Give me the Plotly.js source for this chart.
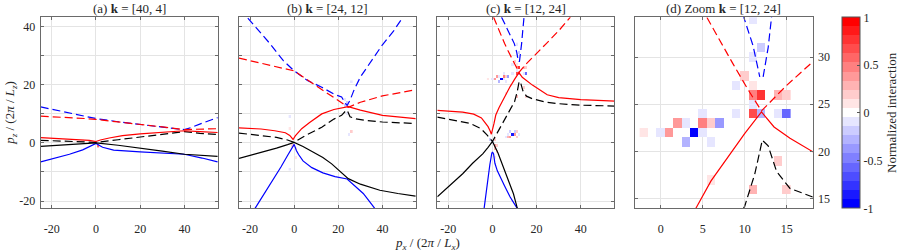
<!DOCTYPE html>
<html><head><meta charset="utf-8">
<script src="https://cdn.plot.ly/plotly-3.0.1.min.js"></script>
<style>html,body{margin:0;padding:0;background:#fff}</style>
</head><body><div id="chart" style="width:900px;height:252px"></div>
<script>
// ---------------- Panel (a) k = [40,4] ----------------
const aRedSolidX = [-25,-15,-8,-3,0,2,6,12,20,30,40,47,55];
const aRedSolidY = [1.8,1.5,1.2,0.9,0.5,1.0,1.7,2.5,3.1,3.7,4.2,3.9,3.6];
const aRedDashX = [-25,-15,-5,0,10,20,30,40,47,55];
const aRedDashY = [9.2,8.9,8.4,8.1,7.3,6.4,5.5,4.6,4.7,4.9];
const aBlueSolidX = [-25,-18,-12,-6,-2,0,3,8,20,30,40,48,55];
const aBlueSolidY = [-6.5,-5.2,-3.9,-2.4,-1.0,-0.2,-1.5,-2.5,-3.1,-3.5,-3.9,-5.2,-6.5];
const aBlueDashX = [-25,-15,-5,0,10,20,30,37,40,43,48,55];
const aBlueDashY = [12.4,10.9,9.2,8.4,7.3,6.3,5.4,4.8,4.6,5.3,6.8,8.7];
const aBlackSolidX = [-25,-15,-5,0,10,20,30,40,48,55];
const aBlackSolidY = [-1.2,-0.8,-0.3,0,-0.8,-1.7,-2.8,-3.9,-4.3,-4.6];
const aBlackDashX = [-25,-15,-5,0,10,20,30,40,47,55];
const aBlackDashY = [0.9,0.6,0.3,0.2,1.1,2.0,2.9,3.9,3.3,2.9];
const aCellX = [1];
const aCellY = [-1];
const aCellV = [0.6];

// ---------------- Panel (b) k = [24,12] ----------------
const bRedSolidX = [-25,-15,-8.8,-4,-2,-0.5,0.5,3.4,7,12.5,18,24.5,30,40,55];
const bRedSolidY = [5.2,4.8,4.2,3.5,2.6,1.2,2.4,4.9,7,10,11.5,12.5,11.3,9.5,8.4];
const bRedDashX = [-25,-15,-5,0,5,10,15,20,24.5,30,40,55];
const bRedDashY = [29.2,27.4,25.8,24.8,22.2,19.7,17.2,14.7,12.3,14.0,16.2,18.3];
const bBlueSolidX = [-17.8,-14,-10,-6,-3,-1,0,1,2,4,8,13,18.5,24,28,31.3,34,36.6];
const bBlueSolidY = [-22.6,-18,-13.3,-8.3,-4.3,-1.6,-0.5,-2.6,-4,-6.2,-8.5,-10.3,-11.6,-12.4,-15,-17.4,-20,-22.6];
const bBlueDashX = [-21,-11,-5,0,6,12.5,18,21.5,23.3,24,25.3,27,30,35,40,45,49];
const bBlueDashY = [43,34.2,28.4,24.8,21.5,19.2,16.8,15.8,13.5,12.9,14.7,18,22.7,28.4,33.8,38.5,43];
const bBlackSolidX = [-25,-15,-8,-3,0,4,8,13,17,21,24.5,30,38.8,47,55];
const bBlackSolidY = [-5.3,-3.3,-1.8,-0.6,0.2,-1.2,-2.9,-5,-7.2,-10,-12.3,-14.2,-16.3,-17.4,-18.3];
const bBlackDashX = [-25,-15,-8,-3,0,5,12.5,18,21.5,23.3,24,25.3,28,32,40,55];
const bBlackDashY = [3.4,2.6,1.9,1.0,0.2,2.5,5.4,8.2,9.5,11.0,11.3,9,8.3,7.8,7.2,6.7];
const bCellX = [-2,-2,-1,0,1,1,-2,23,24,23,25,24,26,26,25];
const bCellY = [9,5,-1,-1,-2,-5,-9,15,14,13,13,10,21,4,3];
const bCellV = [-0.12,0.1,0.15,0.2,0.12,0.12,-0.12,-0.12,-0.15,-0.2,0.1,-0.1,-0.1,0.15,-0.1];

// ---------------- Panels (c),(d) k = [12,24] ----------------
const cRedSolidX = [-25,-17.7,-13.5,-8.5,-5,-3.9,-2,-1.1,-0.5,0.7,1.5,3,4.2,6,8,10,12,13.5,15.4,18.1,20,24.8,30,40,55.9];
const cRedSolidY = [11.2,10.7,10.6,9.9,8.6,7.5,5.6,4.2,3.0,6.7,9.6,12.2,14,16.9,19.4,21.9,24.2,22.6,21.4,19.9,19,16.6,15.6,14.9,14.4];
const cRedDashX = [0.5,3,5.5,7,8.6,10.3,12,15,18.1,24.5,30,35.3];
const cRedDashY = [43.3,38.5,34.2,31.8,29.3,26.7,24.3,27,29.5,34.3,38.6,43.3];
const cBlueSolidX = [-3.8,-2.5,-1.2,-0.3,0,0.5,1.1,2.2,3.4,5.5,8,11.3];
const cBlueSolidY = [-22.6,-14,-7.5,-3.5,-3.1,-3.8,-7,-9.6,-11.7,-14.8,-18.6,-22.6];
const cBlueDashX = [4.1,6.5,8.5,9.9,11,11.8,null,12.2,12.8,13.2,13.7,14.3];
const cBlueDashY = [43.3,39.5,36.3,34.2,31.2,27.9,null,27.9,31,34.2,38.5,43.3];
const cBlackSolidX = [-25,-19,-13.5,-9,-4.3,-2,0,2.5,5,7.5,9.5,11.3];
const cBlackSolidY = [-18.5,-14.5,-10.6,-7,-3.7,-1.5,0.5,-3.5,-8.5,-13.5,-17.5,-22.6];
const cBlackDashX = [-25,-17.7,-10,-5.4,-2.5,0,3,6,8.5,10,11.2,12.1,12.8,13.8,15.4,18.1,23.7,30,40,55.9];
const cBlackDashY = [8.9,7.8,6.7,5,2.8,0.5,4.5,8.5,11.8,14.2,17.6,21.2,20.6,17.9,16.1,15.2,14.1,13.5,13,12.7];
const cCellX = [11,12,11,10,9,11,11,12,14,15,11,9,11,12,14,15,5,2,3,5,6,7,-2,0,1,4,5,3,6,14,6,11,15,
                8,10,11,7,9,10,12,6,7,8,11,-1,1,0,1,2,1,2,1];
const cCellY = [34,31,30,28,27,27,26,26,26,26,25,24,24,24,24,24,24,23,23,23,23,23,22,22,22,22,22,21,21,19,17,16,16,
                4,4,4,3,3,3,3,2,2,2,2,1,1,0,-1,-1,-2,-3,-5];
const cCellV = [-0.12,-0.15,-0.12,0.15,-0.1,0.12,0.45,0.75,0.3,0.15,-0.1,-0.1,0.7,-0.25,-0.1,-0.55,-0.1,0.35,-0.1,0.45,0.15,-0.4,0.12,-0.1,0.4,-1,-0.1,-0.25,-0.1,0.15,0.12,0.25,0.15,
                -0.15,-0.2,0.15,-0.1,-0.9,0.35,-0.1,-0.1,0.3,0.35,0.2,-0.15,0.2,-0.1,0.35,0.2,0.3,0.15,0.1];

// ---------------- Tick labels ----------------
const mainXTicks = [-20,0,20,40];
const mainXText = ['-20','0','20','40'];
const mainYTicks = [-20,-10,0,10,20,30,40];
const mainYText = ['-20','','0','','20','','40'];
const zoomXTicks = [0,5,10,15];
const zoomXText = ['0','5','10','15'];
const zoomYTicks = [15,20,25,30];
const zoomYText = ['15','20','25','30'];
const cbTicks = [-1,-0.5,0,0.5,1];
const cbText = ['-1','-0.5','0','0.5','1'];
const titles = ['(a) <b>k</b> = [40, 4]','(b) <b>k</b> = [24, 12]','(c) <b>k</b> = [12, 24]','(d) Zoom <b>k</b> = [12, 24]'];

// ---------------- helpers ----------------
const FONT = 'Liberation Serif';
const RED = '#ff0000', BLUE = '#0000ff', BLACK = '#000000';
const DASH = '8px,4px';
const LW = 1.2;

function grid(cx, cy, cv){
  const xmin = Math.min(...cx), xmax = Math.max(...cx);
  const ymin = Math.min(...cy), ymax = Math.max(...cy);
  const xs = [], ys = [], z = [];
  for (let x = xmin; x <= xmax; x++) xs.push(x);
  for (let y = ymin; y <= ymax; y++) { ys.push(y); z.push(new Array(xs.length).fill(null)); }
  cx.forEach((x,i)=>{ z[cy[i]-ymin][x-xmin] = cv[i]; });
  return {xs, ys, z};
}
function levelColor(v){
  if (v >= 0){ const c = Math.round(255*(1-v)); return `rgb(255,${c},${c})`; }
  const c = Math.round(255*(1+v)); return `rgb(${c},${c},255)`;
}
const NL = 21, colorscale = [];
for (let j = 0; j < NL; j++){
  const c = levelColor(-1 + j*0.1);
  colorscale.push([j/NL, c]); colorscale.push([(j+1)/NL, c]);
}
function heat(g, xa, ya, showscale){
  const t = {type:'heatmap', x:g.xs, y:g.ys, z:g.z, xaxis:xa, yaxis:ya,
    colorscale, zmin:-1, zmax:1, showscale:!!showscale, hoverinfo:'skip', xgap:0, ygap:0};
  if (showscale){
    t.colorbar = {x:842.3/900, xanchor:'left', xref:'paper', y:1-112.8/252, yanchor:'middle', yref:'paper',
      len:191/252, lenmode:'fraction', thickness:18.4, thicknessmode:'pixels', xpad:0, ypad:0,
      outlinewidth:1, outlinecolor:'#555',
      tickvals:cbTicks, ticktext:cbText, ticks:'inside', ticklen:3, tickcolor:'#555',
      tickfont:{family:FONT, size:12, color:'#262626'},
      title:{text:'Normalized interaction', side:'right', font:{family:FONT, size:13, color:'#262626'}}};
  }
  return t;
}
function line(x, y, color, dashed, xa, ya){
  return {type:'scatter', mode:'lines', x, y, xaxis:xa, yaxis:ya, hoverinfo:'skip', connectgaps:false,
    line:{color, width:LW, dash: dashed ? DASH : 'solid'}};
}
function panel(p, xa, ya){
  return [
    line(p.bs[0], p.bs[1], BLUE, false, xa, ya),
    line(p.bd[0], p.bd[1], BLUE, true, xa, ya),
    line(p.ks[0], p.ks[1], BLACK, false, xa, ya),
    line(p.kd[0], p.kd[1], BLACK, true, xa, ya),
    line(p.rs[0], p.rs[1], RED, false, xa, ya),
    line(p.rd[0], p.rd[1], RED, true, xa, ya)
  ];
}
const PA = {rs:[aRedSolidX,aRedSolidY], rd:[aRedDashX,aRedDashY], bs:[aBlueSolidX,aBlueSolidY], bd:[aBlueDashX,aBlueDashY], ks:[aBlackSolidX,aBlackSolidY], kd:[aBlackDashX,aBlackDashY]};
const PB = {rs:[bRedSolidX,bRedSolidY], rd:[bRedDashX,bRedDashY], bs:[bBlueSolidX,bBlueSolidY], bd:[bBlueDashX,bBlueDashY], ks:[bBlackSolidX,bBlackSolidY], kd:[bBlackDashX,bBlackDashY]};
const PC = {rs:[cRedSolidX,cRedSolidY], rd:[cRedDashX,cRedDashY], bs:[cBlueSolidX,cBlueSolidY], bd:[cBlueDashX,cBlueDashY], ks:[cBlackSolidX,cBlackSolidY], kd:[cBlackDashX,cBlackDashY]};

const gA = grid(aCellX, aCellY, aCellV);
const gB = grid(bCellX, bCellY, bCellV);
const gC = grid(cCellX, cCellY, cCellV);

const traces = [
  heat(gA,'x','y'), heat(gB,'x2','y2'), heat(gC,'x3','y3'), heat(gC,'x4','y4',true),
  ...panel(PA,'x','y'), ...panel(PB,'x2','y2'), ...panel(PC,'x3','y3'), ...panel(PC,'x4','y4')
];

const FRAME = '#6a6a6a', GRID = '#e4e4e4';
function axis(domain, range, tv, tt, extra){
  return Object.assign({domain, range, tickmode:'array', tickvals:tv, ticktext:tt,
    showgrid:true, gridcolor:GRID, gridwidth:1, zeroline:false,
    showline:true, linecolor:FRAME, linewidth:1, mirror:'ticks',
    ticks:'inside', ticklen:3, tickcolor:FRAME, tickwidth:1,
    tickfont:{family:FONT, size:12, color:'#262626'}, fixedrange:true}, extra||{});
}
const YD = [1-208.3/252, 1-17.3/252];
const XR = [-25,55.2], YR = [-22.5,43.25];
const dom = [[40.7,218],[239,416],[437.3,614.3],[635,812.7]].map(d=>[d[0]/900,d[1]/900]);
const XS = {ticklabelstandoff:9};

const layout = {
  width:900, height:252, autosize:false, margin:{l:0,r:0,t:0,b:0},
  paper_bgcolor:'#fff', plot_bgcolor:'#fff', showlegend:false,
  font:{family:FONT, color:'#262626'},
  xaxis: axis(dom[0], XR, mainXTicks, mainXText, Object.assign({anchor:'y'}, XS)),
  yaxis: axis(YD, YR, mainYTicks, mainYText, {anchor:'x', ticklabelstandoff:2}),
  xaxis2: axis(dom[1], XR, mainXTicks, mainXText, Object.assign({anchor:'y2'}, XS)),
  yaxis2: axis(YD, YR, mainYTicks, mainYText, {anchor:'x2', showticklabels:false}),
  xaxis3: axis(dom[2], XR, mainXTicks, mainXText, Object.assign({anchor:'y3'}, XS)),
  yaxis3: axis(YD, YR, mainYTicks, mainYText, {anchor:'x3', showticklabels:false}),
  xaxis4: axis(dom[3], [-3.05,18.1], zoomXTicks, zoomXText, Object.assign({anchor:'y4'}, XS)),
  yaxis4: axis(YD, [14.0,34.2], zoomYTicks, zoomYText, {anchor:'x4', side:'right', ticklabelstandoff:2}),
  annotations: [
    ...titles.map((t,i)=>({text:t, xref:'paper', yref:'paper', x:(dom[i][0]+dom[i][1])/2, y:1-8.5/252,
      xanchor:'center', yanchor:'middle', showarrow:false, font:{family:FONT, size:13, color:'#262626'}})),
    {text:'<i>p</i><sub><i>z</i></sub> / (2<i>π</i> / <i>L</i><sub><i>z</i></sub>)', xref:'paper', yref:'paper',
      x:11/900, y:1-112.8/252, textangle:-90, xanchor:'center', yanchor:'middle', showarrow:false,
      font:{family:FONT, size:13, color:'#262626'}},
    {text:'<i>p</i><sub><i>x</i></sub> / (2<i>π</i> / <i>L</i><sub><i>x</i></sub>)', xref:'paper', yref:'paper',
      x:427/900, y:1-243.5/252, xanchor:'center', yanchor:'middle', showarrow:false,
      font:{family:FONT, size:13, color:'#262626'}}
  ]
};
Plotly.newPlot('chart', traces, layout, {staticPlot:true, displayModeBar:false});
</script></body></html>
